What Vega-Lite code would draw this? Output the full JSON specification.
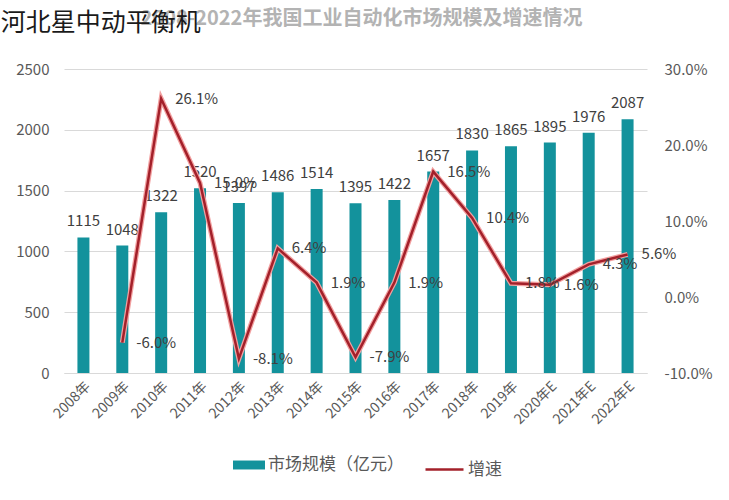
{
  "$schema": "https://vega.github.io/schema/vega-lite/v6.json",
  "background": "white",
  "padding": {"left": 0, "top": 9, "right": 5, "bottom": 5},
  "config": {
    "font": "Noto Sans CJK SC",
    "view": {"stroke": null},
    "locale": {"number": {"decimal": ".", "thousands": ",", "grouping": [3], "currency": ["", ""], "minus": "-"}}
  },
  "title": {"text": "河北星中动平衡机", "anchor": "start", "frame": "bounds", "fontSize": 25, "fontWeight": "normal", "color": "#1a1a1a", "dy": 31, "dx": -15},
  "vconcat": [
    {
      "width": 583,
      "height": 304,
      "title": {"text": "2008-2022年我国工业自动化市场规模及增速情况", "fontSize": 20, "fontWeight": "bold", "color": "#b3b3b3", "anchor": "middle", "offset": 33, "dx": 6},
      "data": {
        "values": [
          {"year": "2008年", "size": 1115, "growth": null},
          {"year": "2009年", "size": 1048, "growth": -0.060},
          {"year": "2010年", "size": 1322, "growth": 0.261},
          {"year": "2011年", "size": 1520, "growth": 0.150},
          {"year": "2012年", "size": 1397, "growth": -0.081},
          {"year": "2013年", "size": 1486, "growth": 0.064},
          {"year": "2014年", "size": 1514, "growth": 0.019},
          {"year": "2015年", "size": 1395, "growth": -0.079},
          {"year": "2016年", "size": 1422, "growth": 0.019},
          {"year": "2017年", "size": 1657, "growth": 0.165},
          {"year": "2018年", "size": 1830, "growth": 0.104},
          {"year": "2019年", "size": 1865, "growth": 0.018},
          {"year": "2020年E", "size": 1895, "growth": 0.016},
          {"year": "2021年E", "size": 1976, "growth": 0.043},
          {"year": "2022年E", "size": 2087, "growth": 0.056}
        ]
      },
      "encoding": {
        "x": {
          "field": "year", "type": "nominal", "sort": null,
          "axis": {"title": null, "labelAngle": -45, "labelFontSize": 14, "labelColor": "#595959", "domainColor": "#d9d9d9", "ticks": false, "labelPadding": 6}
        }
      },
      "layer": [
        {
          "layer": [
            {
              "mark": {"type": "bar", "width": 12},
              "encoding": {
                "y": {
                  "field": "size", "type": "quantitative", "scale": {"domain": [0, 2500], "nice": false},
                  "axis": {"title": null, "format": "d", "values": [0, 500, 1000, 1500, 2000, 2500], "grid": true, "gridColor": "#d9d9d9", "domain": false, "ticks": false, "labelFontSize": 15, "labelColor": "#595959", "labelPadding": 15}
                },
                "color": {
                  "datum": "市场规模（亿元）",
                  "scale": {"range": ["#13929c"]},
                  "legend": {
                    "title": null, "orient": "none", "legendX": 169, "legendY": 380,
                    "symbolType": "M-1,-0.28H1V0.28H-1Z", "symbolSize": 1024, "symbolStrokeWidth": 0,
                    "labelFontSize": 17, "labelColor": "#595959", "labelOffset": 3
                  }
                }
              }
            },
            {
              "mark": {"type": "text", "baseline": "bottom", "dy": -8, "fontSize": 15, "color": "#404040"},
              "encoding": {
                "y": {"field": "size", "type": "quantitative"},
                "text": {"field": "size", "type": "quantitative", "format": "d"}
              }
            }
          ]
        },
        {
          "transform": [{"filter": "datum.growth != null"}],
          "layer": [
            {
              "mark": {"type": "line", "strokeWidth": 5, "color": "#f2a0a0"},
              "encoding": {
                "y": {
                  "field": "growth", "type": "quantitative", "scale": {"domain": [-0.1, 0.3], "nice": false},
                  "axis": {"orient": "right", "title": null, "format": ".1%", "values": [-0.1, -0.05, 0, 0.05, 0.1, 0.15, 0.2, 0.25, 0.3], "grid": false, "domain": false, "ticks": false, "labelFontSize": 15, "labelColor": "#595959", "labelPadding": 17}
                }
              }
            },
            {
              "mark": {"type": "line", "strokeWidth": 2.5},
              "encoding": {
                "y": {"field": "growth", "type": "quantitative"},
                "stroke": {
                  "datum": "增速",
                  "scale": {"range": ["#a3202a"]},
                  "legend": {
                    "title": null, "orient": "none", "legendX": 360, "legendY": 380,
                    "symbolType": "stroke", "symbolSize": 1444, "symbolStrokeWidth": 2.5,
                    "labelFontSize": 17, "labelColor": "#595959", "labelOffset": 3
                  }
                }
              }
            },
            {
              "mark": {"type": "text", "align": "left", "baseline": "middle", "dx": 14, "fontSize": 15, "color": "#404040"},
              "encoding": {
                "y": {"field": "growth", "type": "quantitative"},
                "text": {"field": "growth", "type": "quantitative", "format": ".1%"}
              }
            }
          ]
        }
      ],
      "resolve": {"scale": {"y": "independent"}}
    }
  ]
}
